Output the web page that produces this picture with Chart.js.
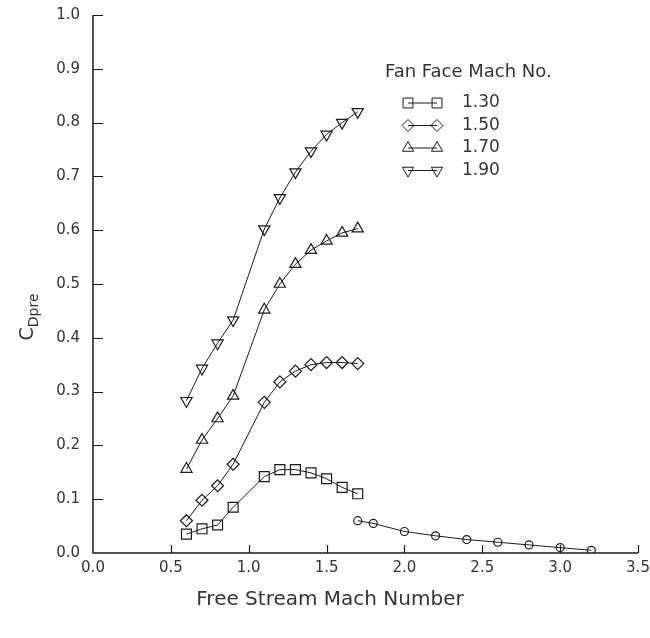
<!DOCTYPE html>
<html>
<head>
<meta charset="utf-8">
<script src="https://cdn.jsdelivr.net/npm/chart.js@4.4.0/dist/chart.umd.min.js"></script>
<style>
  html, body { margin: 0; padding: 0; background: #fff; }
  #box { width: 650px; height: 638px; }
</style>
</head>
<body>
<div id="box"><canvas id="chart"></canvas></div>
<script>
// free stream Mach numbers shared by the four fan-face curves
const machSub = [0.6, 0.7, 0.8, 0.9, 1.1, 1.2, 1.3, 1.4, 1.5, 1.6, 1.7];
const cd130 = [0.035, 0.045, 0.052, 0.085, 0.142, 0.155, 0.155, 0.149, 0.138, 0.122, 0.110];
const cd150 = [0.060, 0.098, 0.125, 0.165, 0.280, 0.318, 0.338, 0.350, 0.354, 0.354, 0.352];
const cd170 = [0.156, 0.210, 0.250, 0.292, 0.452, 0.500, 0.537, 0.563, 0.580, 0.595, 0.603];
const cd190 = [0.283, 0.343, 0.390, 0.433, 0.602, 0.660, 0.708, 0.747, 0.778, 0.800, 0.820];

// supersonic branch of the 1.30 curve
const machSup = [1.7, 1.8, 2.0, 2.2, 2.4, 2.6, 2.8, 3.0, 3.2];
const cd130Sup = [0.060, 0.055, 0.040, 0.032, 0.025, 0.020, 0.015, 0.010, 0.005];

const fanMach = ['1.30', '1.50', '1.70', '1.90'];
const legendTitle = 'Fan Face Mach No.';
const xTitle = 'Free Stream Mach Number';

const ink = '#1a1a1a';
const textInk = '#333';
const font = '"DejaVu Sans", sans-serif';

// marker radius per point style, so the symbols come out about the same size
const markerRadius = { rect: 7, rectRot: 6, triangle: 6.5, circle: 4 };

const pts = (xs, ys) => xs.map((x, i) => ({ x, y: ys[i] }));

function series(label, ys, style, rotation, xs) {
  return {
    label,
    data: pts(xs || machSub, ys),
    showLine: true,
    borderColor: ink,
    borderWidth: 1,
    pointStyle: style,
    rotation: rotation || 0,
    pointRadius: markerRadius[style],
    pointBorderWidth: 1.2,
    pointBorderColor: ink,
    pointBackgroundColor: 'rgba(0,0,0,0)',
    tension: 0
  };
}

const datasets = [
  series(fanMach[0], cd130, 'rect'),
  series(fanMach[1], cd150, 'rectRot'),
  series(fanMach[2], cd170, 'triangle'),
  series(fanMach[3], cd190, 'triangle', 180),
  Object.assign(series('', cd130Sup, 'circle', 0, machSup), { inLegend: false })
];

// axis lines and inward-pointing ticks
const axesPlugin = {
  id: 'axesPlugin',
  afterDatasetsDraw(chart) {
    const { ctx, chartArea: a, scales: { x, y } } = chart;
    ctx.save();
    ctx.strokeStyle = ink;
    ctx.lineWidth = 1.5;
    ctx.beginPath();
    ctx.moveTo(a.left, a.top);
    ctx.lineTo(a.left, a.bottom);
    ctx.lineTo(a.right, a.bottom);
    ctx.stroke();
    ctx.lineWidth = 1.2;
    ctx.beginPath();
    y.ticks.forEach(t => {
      const py = Math.round(y.getPixelForValue(t.value)) + 0.5;
      if (t.value === 0) return;
      ctx.moveTo(a.left, py);
      ctx.lineTo(a.left + 10, py);
    });
    x.ticks.forEach(t => {
      if (t.value === 0) return;
      const px = Math.round(x.getPixelForValue(t.value)) + 0.5;
      ctx.moveTo(px, a.bottom);
      ctx.lineTo(px, a.bottom - 8);
    });
    ctx.stroke();
    ctx.restore();
  }
};

// axis titles: y gets the subscript, rotated
const titlesPlugin = {
  id: 'titlesPlugin',
  afterDraw(chart) {
    const { ctx, chartArea: a } = chart;
    ctx.save();
    ctx.fillStyle = textInk;
    ctx.textAlign = 'center';
    ctx.textBaseline = 'middle';
    ctx.font = '20px ' + font;
    ctx.fillText(xTitle, a.left + 237, a.bottom + 47);

    ctx.translate(a.left - 60, a.top + 302);
    ctx.rotate(-Math.PI / 2);
    ctx.textAlign = 'left';
    ctx.textBaseline = 'alphabetic';
    ctx.font = '19px ' + font;
    const cw = ctx.measureText('C').width;
    ctx.font = '14px ' + font;
    const sw = ctx.measureText('Dpre').width;
    const x0 = -(cw + sw) / 2;
    ctx.font = '19px ' + font;
    ctx.fillText('C', x0, 0);
    ctx.font = '14px ' + font;
    ctx.fillText('Dpre', x0 + cw, 5);
    ctx.restore();
  }
};

// legend block inside the plot, top right
const legendPlugin = {
  id: 'legendPlugin',
  afterDraw(chart) {
    const { ctx, chartArea: a } = chart;
    const left = a.left + 292;
    ctx.save();
    ctx.fillStyle = textInk;
    ctx.textBaseline = 'middle';
    ctx.font = '18px ' + font;
    ctx.fillText(legendTitle, left, a.top + 57);
    chart.data.datasets.forEach((ds, i) => {
      if (ds.inLegend === false) return;
      const cy = a.top + 88 + i * 22.5;
      const x1 = left + 23, x2 = left + 52;
      ctx.strokeStyle = ink;
      ctx.lineWidth = 1;
      ctx.beginPath();
      ctx.moveTo(x1, cy);
      ctx.lineTo(x2, cy);
      ctx.stroke();
      const opts = {
        pointStyle: ds.pointStyle, rotation: ds.rotation, radius: ds.pointRadius,
        borderWidth: ds.pointBorderWidth
      };
      ctx.strokeStyle = ink;
      ctx.fillStyle = 'rgba(0,0,0,0)';
      Chart.helpers.drawPoint(ctx, opts, x1, cy);
      Chart.helpers.drawPoint(ctx, opts, x2, cy);
      ctx.fillStyle = textInk;
      ctx.font = '17px ' + font;
      ctx.fillText(ds.label, left + 77, cy);
    });
    ctx.restore();
  }
};

new Chart(document.getElementById('chart').getContext('2d'), {
  type: 'scatter',
  data: { datasets },
  options: {
    responsive: true,
    maintainAspectRatio: false,
    animation: false,
    layout: { padding: { top: 15, right: 12, left: 0, bottom: 0 } },
    plugins: {
      legend: { display: false },
      tooltip: { enabled: false }
    },
    scales: {
      x: {
        type: 'linear',
        min: 0, max: 3.5,
        grid: { display: false, drawTicks: false },
        border: { display: false },
        ticks: {
          stepSize: 0.5,
          padding: 6,
          color: textInk,
          font: { family: font, size: 15 },
          callback: v => v.toFixed(1)
        },
        afterFit: s => { s.height = 85; s.paddingLeft = 0; s.paddingRight = 0; }
      },
      y: {
        min: 0, max: 1,
        grid: { display: false, drawTicks: false },
        border: { display: false },
        ticks: {
          stepSize: 0.1,
          padding: 13,
          color: textInk,
          font: { family: font, size: 15 },
          callback: v => v.toFixed(1)
        },
        afterFit: s => { s.width = 93; s.paddingTop = 0; s.paddingBottom = 0; }
      }
    }
  },
  plugins: [axesPlugin, titlesPlugin, legendPlugin]
});
</script>
</body>
</html>
